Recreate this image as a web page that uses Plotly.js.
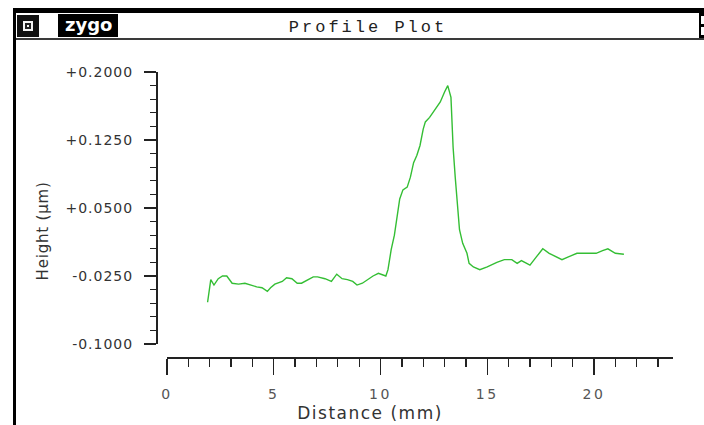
<!DOCTYPE html>
<html>
<head>
<meta charset="utf-8">
<script src="https://cdn.plot.ly/plotly-3.0.1.min.js"></script>
<style>
  html, body { margin: 0; padding: 0; background: #fff; }
  #chart { width: 704px; height: 425px; }
  .gtitle { letter-spacing: 3px; }
  .xtick text { letter-spacing: 2.5px; }
  .ytick text { letter-spacing: 1px; }
  .annotation[data-index="1"] text { letter-spacing: 0.8px; }
  .annotation[data-index="2"] text { letter-spacing: 1.5px; }
</style>
</head>
<body>
<div id="chart"></div>
<script>
// ---- data ----
const distance = [1.9, 2.05, 2.2, 2.4, 2.6, 2.8, 3.05, 3.35, 3.65, 3.9,
  4.2, 4.45, 4.7, 4.85, 5.05, 5.4, 5.6, 5.85, 6.1, 6.3,
  6.6, 6.85, 7.05, 7.4, 7.7, 7.95, 8.2, 8.45, 8.7, 8.9,
  9.15, 9.4, 9.65, 9.9, 10.05, 10.25, 10.35, 10.5, 10.65, 10.8,
  10.9, 11.05, 11.25, 11.4, 11.55, 11.7, 11.85, 12.0, 12.1, 12.3,
  12.55, 12.8, 13.0, 13.15, 13.3, 13.4, 13.5, 13.6, 13.7, 13.85,
  14.05, 14.15, 14.35, 14.65, 15.0, 15.45, 15.8, 16.15, 16.4, 16.6,
  17.0, 17.3, 17.6, 17.9, 18.25, 18.5, 18.8, 19.2, 19.8, 20.1,
  20.4, 20.65, 21.0, 21.4];
const height = [-0.054, -0.029, -0.035, -0.028, -0.025, -0.025, -0.033, -0.034, -0.033, -0.035,
  -0.037, -0.038, -0.042, -0.038, -0.034, -0.031, -0.027, -0.028, -0.033, -0.033,
  -0.029, -0.026, -0.026, -0.028, -0.031, -0.023, -0.028, -0.029, -0.031, -0.035,
  -0.033, -0.029, -0.025, -0.022, -0.023, -0.025, -0.018, 0.004, 0.020, 0.044,
  0.060, 0.070, 0.073, 0.084, 0.100, 0.108, 0.119, 0.137, 0.145, 0.150,
  0.158, 0.167, 0.178, 0.185, 0.172, 0.117, 0.084, 0.055, 0.026, 0.011,
  0.000, -0.011, -0.015, -0.018, -0.015, -0.010, -0.007, -0.007, -0.011, -0.008,
  -0.013, -0.004, 0.005, 0.000, -0.004, -0.007, -0.004, 0.000, 0.000, 0.000,
  0.003, 0.005, 0.000, -0.001];
const xTickVals = [0, 5, 10, 15, 20];
const xTickText = ['0', '5', '10', '15', '20'];
const yTickVals = [-0.1, -0.025, 0.05, 0.125, 0.2];
const yTickText = ['-0.1000', '-0.0250', '+0.0500', '+0.1250', '+0.2000'];

// ---- layout geometry (pixels) ----
const W = 704, H = 425;
const M = { l: 156, r: 31, t: 72, b: 68 };
const PW = W - M.l - M.r, PH = H - M.t - M.b;
const px2x = p => (p - M.l) / PW;
const px2y = p => (H - M.b - p) / PH;
function rect(x0, y0, x1, y1, fill) {
  return { type: 'rect', xref: 'paper', yref: 'paper',
    x0: px2x(x0), x1: px2x(x1), y0: px2y(y1), y1: px2y(y0),
    fillcolor: fill, line: { width: 0 }, layer: 'above' };
}

const shapes = [
  rect(13, 8, 704, 13, '#000'),          // window top border
  rect(13, 8, 16, 425, '#000'),          // window left border
  rect(16, 38, 704, 40, '#3a3a3a'),      // title bar bottom line
  rect(17, 15, 39, 37, '#111'),          // close icon
  rect(23, 21, 33, 31, '#f4f4f4'),
  rect(25, 23, 31, 29, '#222'),
  rect(27, 25, 29, 27, '#f4f4f4'),
  rect(58, 14, 118, 37, '#000'),         // zygo badge
  rect(699, 13, 704, 38, '#000'),        // right end piece
  rect(701, 16, 704, 24, '#fff'),
  rect(701, 27, 704, 35, '#fff')
];

const annotations = [
  { text: 'zygo', xref: 'paper', yref: 'paper', x: px2x(88), y: px2y(25),
    showarrow: false, xanchor: 'center', yanchor: 'middle',
    font: { family: 'DejaVu Sans', size: 18, color: '#fff', weight: 'bold' } },
  { text: 'Height (μm)', xref: 'paper', yref: 'paper', x: px2x(43), y: px2y(231),
    showarrow: false, textangle: -90, xanchor: 'center', yanchor: 'middle',
    font: { family: 'DejaVu Sans', size: 15, color: '#333' } },
  { text: 'Distance (mm)', xref: 'paper', yref: 'paper', x: px2x(370), y: px2y(413),
    showarrow: false, xanchor: 'center', yanchor: 'middle',
    font: { family: 'DejaVu Sans', size: 17, color: '#333' } }
];

const trace = {
  x: distance, y: height, type: 'scatter', mode: 'lines',
  line: { color: 'rgb(52,190,52)', width: 1.4 },
  hoverinfo: 'skip'
};

const layout = {
  width: W, height: H,
  margin: M,
  paper_bgcolor: '#fff', plot_bgcolor: '#fff',
  showlegend: false,
  title: { text: 'Profile Plot', xref: 'container', yref: 'container',
    x: 368 / W, y: 1 - 26 / H, xanchor: 'center', yanchor: 'middle',
    font: { family: 'Liberation Mono', size: 17, color: '#222' } },
  xaxis: {
    domain: [11 / PW, 1], anchor: 'free', position: 0,
    range: [-0.0005, 23.7], showgrid: false, zeroline: false,
    showline: true, linecolor: '#222', linewidth: 1.5,
    ticks: 'outside', ticklen: 16, tickwidth: 1.3, tickcolor: '#222',
    tickmode: 'array', tickvals: xTickVals, ticktext: xTickText,
    ticklabelstandoff: 8,
    tickfont: { family: 'DejaVu Sans', size: 14, color: '#555' },
    minor: { dtick: 1, tick0: 0, ticks: 'outside', ticklen: 8, tickwidth: 1.3, tickcolor: '#222', showgrid: false }
  },
  yaxis: {
    domain: [13 / PH, 1], anchor: 'free', position: 0,
    range: [-0.10005, 0.20005], showgrid: false, zeroline: false,
    showline: true, linecolor: '#222', linewidth: 1.5,
    ticks: 'outside', ticklen: 12, tickwidth: 1.3, tickcolor: '#222',
    tickmode: 'array', tickvals: yTickVals, ticktext: yTickText,
    ticklabelstandoff: 8,
    tickfont: { family: 'DejaVu Sans', size: 14, color: '#333' },
    minor: { dtick: 0.015, tick0: -0.1, ticks: 'outside', ticklen: 6, tickwidth: 1.3, tickcolor: '#222', showgrid: false }
  },
  shapes: shapes,
  annotations: annotations
};

Plotly.newPlot('chart', [trace], layout, { staticPlot: true, displayModeBar: false });
</script>
</body>
</html>
